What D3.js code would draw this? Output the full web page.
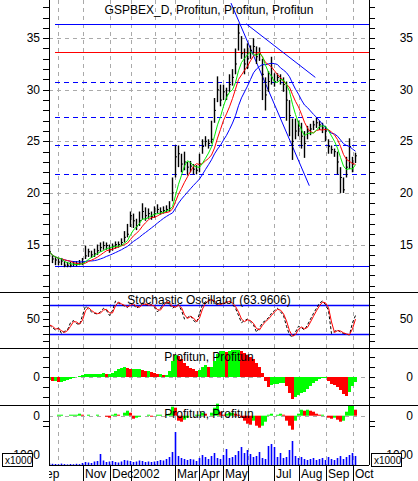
<!DOCTYPE html>
<html><head><meta charset="utf-8">
<script src="https://cdn.jsdelivr.net/npm/d3@7"></script>
<style>body{margin:0;background:#fff}text{font-family:"Liberation Sans",Arial,sans-serif;font-size:12px}</style>
</head><body>
<script>
// price data, one bar every ~2-3 sessions
const closes = [14.3,13.6,13.5,13.3,13.4,13.0,13.0,13.0,13.1,13.1,13.2,13.3,13.9,14.3,14.0,14.1,14.4,14.7,14.9,14.9,
  14.5,14.8,15.0,15.0,15.2,15.7,16.0,17.8,17.3,16.8,17.3,18.2,17.8,18.0,17.7,18.0,18.4,18.2,18.3,18.4,
  18.5,20.0,23.5,23.8,22.8,23.0,22.5,22.6,22.3,22.2,22.8,24.5,25.0,24.8,25.2,28.0,30.0,29.0,29.8,29.5,
  30.5,31.2,32.5,35.5,33.5,32.5,33.0,33.8,34.2,33.2,33.5,31.5,29.5,30.8,31.2,30.8,31.2,31.0,30.5,29.0,
  27.5,25.0,26.0,26.5,25.5,24.8,26.0,26.2,26.6,26.8,26.6,26.3,26.0,24.5,24.2,24.0,23.0,21.5,20.3,22.5,
  24.5,22.8,23.6];
const highs = [14.8,14.0,13.8,13.7,13.7,13.4,13.3,13.3,13.4,13.4,13.5,13.7,14.9,14.6,14.4,14.6,15.0,15.2,15.3,15.2,
  15.0,15.1,15.3,15.3,15.6,16.3,17.0,18.2,18.0,17.5,18.2,19.0,18.6,18.5,18.2,18.7,18.9,18.6,18.7,18.8,
  19.2,21.5,24.6,24.6,23.8,24.0,23.0,23.1,22.8,22.7,23.8,25.2,25.5,25.2,27.0,29.2,31.3,30.5,30.5,30.2,
  31.5,32.0,34.0,36.4,35.2,34.0,34.5,34.3,35.0,34.2,34.1,33.0,31.2,31.8,33.2,31.6,31.6,31.5,31.2,30.8,
  29.0,27.2,27.2,27.0,26.8,26.0,26.5,26.7,27.0,27.3,27.0,26.8,26.5,25.2,24.6,24.3,24.0,22.5,21.5,23.5,
  25.3,23.5,23.9];
const lows = [13.8,13.2,13.0,13.0,13.0,12.8,12.8,12.8,12.9,12.9,13.0,13.0,13.6,13.8,13.7,13.8,14.0,14.3,14.5,14.5,
  14.2,14.4,14.6,14.7,14.9,15.2,15.7,16.7,16.6,16.4,16.8,17.4,17.3,17.5,17.4,17.6,18.0,17.9,18.0,18.1,
  18.2,19.2,21.5,22.5,22.0,22.2,21.7,22.0,21.8,21.8,22.0,23.8,24.5,24.3,24.8,26.8,28.8,28.4,29.0,29.0,
  29.8,30.4,31.5,33.8,33.0,31.5,32.0,33.0,33.5,32.5,32.8,29.0,28.0,29.8,30.5,30.3,30.8,30.5,29.8,27.0,
  25.5,23.2,25.2,25.5,24.3,23.4,25.2,25.6,26.1,26.3,26.1,25.8,25.0,23.8,23.8,23.5,21.8,20.0,20.0,21.5,
  22.3,22.0,22.9];
const stoch = [42,38,35,38,30,33,35,45,48,44,42,55,68,64,60,58,57,60,65,62,
  55,62,75,72,70,68,66,72,70,65,68,72,70,69,70,66,60,65,72,75,
  70,65,68,70,62,50,52,55,48,45,58,70,74,76,78,72,70,71,72,74,
  75,70,65,55,45,48,50,46,42,32,38,45,48,52,58,62,65,60,55,40,
  28,25,32,40,38,35,42,50,58,65,72,75,70,62,30,33,35,32,30,29,
  28,45,55];
const macdHist = [-0.3,-0.4,-0.4,-0.5,-0.5,-0.4,-0.3,-0.2,-0.1,0.0,0.1,0.2,0.3,0.3,0.3,0.3,0.3,0.3,0.4,0.3,
  0.3,0.4,0.6,0.8,0.9,1.0,0.9,0.8,0.8,0.8,0.8,0.7,0.6,0.6,0.5,0.4,0.3,0.3,0.2,0.2,
  0.6,1.6,2.2,2.1,1.8,1.4,1.1,0.9,0.8,0.6,0.7,1.0,1.2,1.0,1.0,1.6,2.3,2.6,2.6,2.5,
  2.6,2.7,2.7,2.7,2.6,2.4,2.2,2.0,1.8,1.4,1.0,0.4,-0.4,-1.0,-0.8,-0.7,-0.7,-0.6,-0.6,-0.9,
  -1.6,-2.2,-2.0,-1.8,-1.6,-1.5,-1.2,-0.9,-0.6,-0.4,-0.2,-0.1,-0.1,-0.4,-0.7,-0.8,-1.0,-1.3,-1.7,-1.9,
  -1.5,-0.9,-0.5];
const oscHist = [0.0,0.0,0.0,0.1,0.1,0.0,0.0,0.1,0.1,0.1,0.2,0.1,0.0,0.1,0.0,0.0,0.1,0.0,0.0,-0.1,
  -0.2,0.1,0.2,0.1,0.0,0.3,0.5,0.3,-0.3,-0.2,-0.1,0.0,0.0,0.1,-0.1,0.0,0.1,0.1,0.0,0.1,
  0.2,0.9,0.8,-0.5,-0.6,-0.4,-0.2,0.0,0.0,0.1,0.1,0.3,0.2,0.0,0.3,0.8,1.2,0.4,0.1,0.2,
  0.3,0.3,0.2,0.1,-0.2,-0.5,-0.8,-0.9,-0.5,-1.0,-1.2,-1.0,-0.6,0.1,0.2,0.0,0.1,0.2,0.1,-0.5,
  -1.0,-1.4,-0.5,0.2,0.6,0.5,0.6,0.5,0.4,0.2,0.1,0.1,0.0,-0.2,-0.3,-0.2,-0.4,-0.6,-0.5,0.4,
  1.0,1.0,0.6];
const volume = [150,120,100,80,140,90,60,100,80,120,90,200,300,250,200,350,400,1100,450,300,
  350,400,300,250,350,500,450,400,300,350,450,400,300,350,300,350,400,500,450,600,
  800,1300,3300,900,700,600,500,600,550,400,700,1000,800,600,900,1200,700,600,1000,1600,
  700,800,1000,1400,1800,1200,1500,1100,800,900,1300,700,600,1900,2100,1800,800,1200,700,800,
  1500,2400,900,700,800,600,500,600,700,500,600,700,500,800,600,500,700,900,600,800,
  1000,1200,900];
const priceTicks = [15, 20, 25, 30, 35];
const supportLevels = [30.8, 27.4, 24.6, 21.8];
const monthLabels = [
  {i: -4.4, t: "Sep"}, {i: 11.3, t: "Nov"}, {i: 20.3, t: "Dec"}, {i: 27.0, t: "2002"},
  {i: 41.7, t: "Mar"}, {i: 49.7, t: "Apr"}, {i: 58.0, t: "May"}, {i: 66.0, t: ""},
  {i: 74.7, t: "Jul"}, {i: 83.3, t: "Aug"}, {i: 92.0, t: "Sep"}, {i: 101.0, t: "Oct"}];
const gridIdx = [2.7, 11.3, 20.3, 27.0, 35.3, 41.7, 49.7, 58.0, 66.0, 74.7, 83.3, 92.0, 101.0];

const W = 418, H = 481, L = 49, R = 369;
const svg = d3.select("body").append("svg").attr("width", W).attr("height", H);
const x = d3.scaleLinear().domain([0, closes.length - 1]).range([49.5, 355.5]);
const yP = d3.scaleLinear().domain([10.4, 38.7]).range([292, 0]);
const yS = d3.scaleLinear().domain([10, 87.5]).range([348, 292]);
const yM = d3.scaleLinear().domain([-2.8, 2.9]).range([405, 348]);
const yO = d3.scaleLinear().domain([-1.0, 0.0]).range([425.7, 415.7]);
const yV = d3.scaleLinear().domain([0, 1000]).range([465, 455]);
const px = v => Math.round(v) + 0.5;

const sma = (arr, n) => arr.map((_, i) => d3.mean(arr.slice(Math.max(0, i - n + 1), i + 1)));
const defs = svg.append("defs");
defs.append("clipPath").attr("id", "plot").append("rect").attr("x", L).attr("y", 0).attr("width", R - L).attr("height", 465);
defs.append("clipPath").attr("id", "axisx").append("rect").attr("x", L).attr("y", 465).attr("width", W - L).attr("height", 16);

// vertical dashed grid
svg.append("g").selectAll("line").data(gridIdx).join("line")
  .attr("x1", d => px(x(d))).attr("x2", d => px(x(d)))
  .attr("y1", 0).attr("y2", 465).attr("stroke", "#aaa").attr("stroke-dasharray", "4,4");
svg.append("g").selectAll("line").data(priceTicks).join("line")
  .attr("x1", L).attr("x2", R).attr("y1", d => px(yP(d))).attr("y2", d => px(yP(d)))
  .attr("stroke", "#aaa").attr("stroke-dasharray", "4,4");
[yM(0), yO(0)].forEach(v => svg.append("line").attr("x1", L).attr("x2", R).attr("y1", px(v)).attr("y2", px(v))
  .attr("stroke", "#aaa").attr("stroke-dasharray", "4,4"));

const g = svg.append("g").attr("clip-path", "url(#plot)");
// support / resistance
g.selectAll(".sup").data(supportLevels).join("line")
  .attr("x1", 55).attr("x2", R).attr("y1", d => px(yP(d))).attr("y2", d => px(yP(d)))
  .attr("stroke", "#0000ff").attr("stroke-dasharray", "5,4");
[[36.4, "#0000ff"], [33.7, "#ff0000"], [12.9, "#0000ff"]].forEach(([v, c]) =>
  g.append("line").attr("x1", 55).attr("x2", R).attr("y1", px(yP(v))).attr("y2", px(yP(v))).attr("stroke", c));
// trend lines
[[60.5, 38.4, 86.6, 20.7], [65.5, 36.4, 88.6, 31.2]].forEach(([a, va, b, vb]) =>
  g.append("line").attr("x1", x(a)).attr("y1", yP(va)).attr("x2", x(b)).attr("y2", yP(vb)).attr("stroke", "#0000ff"));

// price bars
g.append("g").selectAll("line").data(closes).join("line")
  .attr("x1", (d, i) => x(i)).attr("x2", (d, i) => x(i))
  .attr("y1", (d, i) => yP(highs[i])).attr("y2", (d, i) => yP(lows[i]))
  .attr("stroke", "#000").attr("stroke-width", 1.4);
g.append("g").selectAll("line").data(closes).join("line")
  .attr("x1", (d, i) => x(i)).attr("x2", (d, i) => x(i) + 1.5)
  .attr("y1", d => yP(d)).attr("y2", d => yP(d)).attr("stroke", "#000");

const line = d3.line().x((d, i) => x(i));
[[14, "#0000ff"], [8, "#ff0000"], [5, "#00ee00"]].forEach(([n, c]) =>
  g.append("path").attr("d", line.y(d => yP(d))(sma(closes, n))).attr("fill", "none").attr("stroke", c));

// stochastic
[70, 30].forEach(v => g.append("line").attr("x1", L).attr("x2", R).attr("y1", px(yS(v))).attr("y2", px(yS(v))).attr("stroke", "#0000ff").attr("stroke-width", 1.5));
g.append("path").attr("d", line.y(d => yS(d))(stoch)).attr("fill", "none").attr("stroke", "#000").attr("stroke-dasharray", "3,2");
g.append("path").attr("d", line.y(d => yS(d))(sma(stoch, 2))).attr("fill", "none").attr("stroke", "#ff0000");

// histograms
const hist = (arr, y) => g.append("g").selectAll("rect").data(arr).join("rect")
  .attr("x", (d, i) => x(i) - 1.5).attr("width", 3)
  .attr("y", d => Math.min(y(d), y(0))).attr("height", d => Math.abs(y(d) - y(0)))
  .attr("fill", (d, i) => i > 0 && d < arr[i - 1] ? "#ff0000" : "#00ff00");
hist(macdHist, yM);
hist(oscHist, yO);
g.append("g").selectAll("rect").data(volume).join("rect")
  .attr("x", (d, i) => x(i) - 0.8).attr("width", 1.6)
  .attr("y", d => yV(d)).attr("height", d => yV(0) - yV(d)).attr("fill", "#0000ff");

// frame & separators
svg.append("line").attr("x1", L + 0.5).attr("x2", L + 0.5).attr("y1", 0).attr("y2", 465).attr("stroke", "#000");
svg.append("line").attr("x1", R + 0.5).attr("x2", R + 0.5).attr("y1", 0).attr("y2", 465).attr("stroke", "#000");
[292, 348, 405].forEach(v => svg.append("line").attr("x1", 0).attr("x2", W).attr("y1", v + 0.5).attr("y2", v + 0.5).attr("stroke", "#000"));
svg.append("line").attr("x1", L).attr("x2", R).attr("y1", 465.5).attr("y2", 465.5).attr("stroke", "#000");

// y axes on both sides
const yAxes = (scale, ticks, minor, y0, y1) => {
  const mt = d3.range(Math.ceil(scale.domain()[0] / minor) * minor, scale.domain()[1], minor)
    .filter(v => scale(v) > y0 + 1 && scale(v) < y1 - 1);
  [[L, -6], [R, 6]].forEach(([ax, dx]) => {
    svg.append("g").selectAll("line").data(mt).join("line")
      .attr("x1", ax).attr("x2", ax + dx).attr("y1", d => px(scale(d))).attr("y2", d => px(scale(d)))
      .attr("stroke", "#000");
  });
  svg.append("g").selectAll("text").data(ticks).join("text")
    .attr("x", 40).attr("y", d => scale(d) + 4).attr("text-anchor", "end").text(d => d);
  svg.append("g").selectAll("text").data(ticks).join("text")
    .attr("x", 413).attr("y", d => scale(d) + 4).attr("text-anchor", "end").text(d => d);
};
yAxes(yP, priceTicks, 1, 0, 292);
yAxes(yS, [50], 10, 292, 348);
yAxes(yM, [0], 1, 348, 405);
yAxes(yO, [0], 0.5, 405, 440);
yAxes(yV, [1000], 1000, 440, 465);
[2, 371].forEach(bx => {
  svg.append("rect").attr("x", bx + 0.5).attr("y", 453.5).attr("width", 30).attr("height", 13).attr("fill", "#fff").attr("stroke", "#000");
  svg.append("text").attr("x", bx + 3).attr("y", 464).style("font-size", "10px").text("x1000");
});

// x axis
const xa = svg.append("g").attr("clip-path", "url(#axisx)");
xa.selectAll("line").data(monthLabels).join("line")
  .attr("x1", d => px(x(d.i))).attr("x2", d => px(x(d.i)))
  .attr("y1", 465).attr("y2", 481).attr("stroke", "#000");
xa.selectAll("text").data(monthLabels).join("text")
  .attr("x", d => Math.round(x(d.i)) + 2).attr("y", 478).text(d => d.t);

// titles
const title = (t, y) => svg.append("text").attr("x", 209).attr("y", y).attr("text-anchor", "middle").text(t);
title("GSPBEX_D, Profitun, Profitun, Profitun", 14);
title("Stochastic Oscillator (63.9606)", 304);
title("Profitun, Profitun", 361);
title("Profitun, Profitun", 418);
</script>
</body></html>
